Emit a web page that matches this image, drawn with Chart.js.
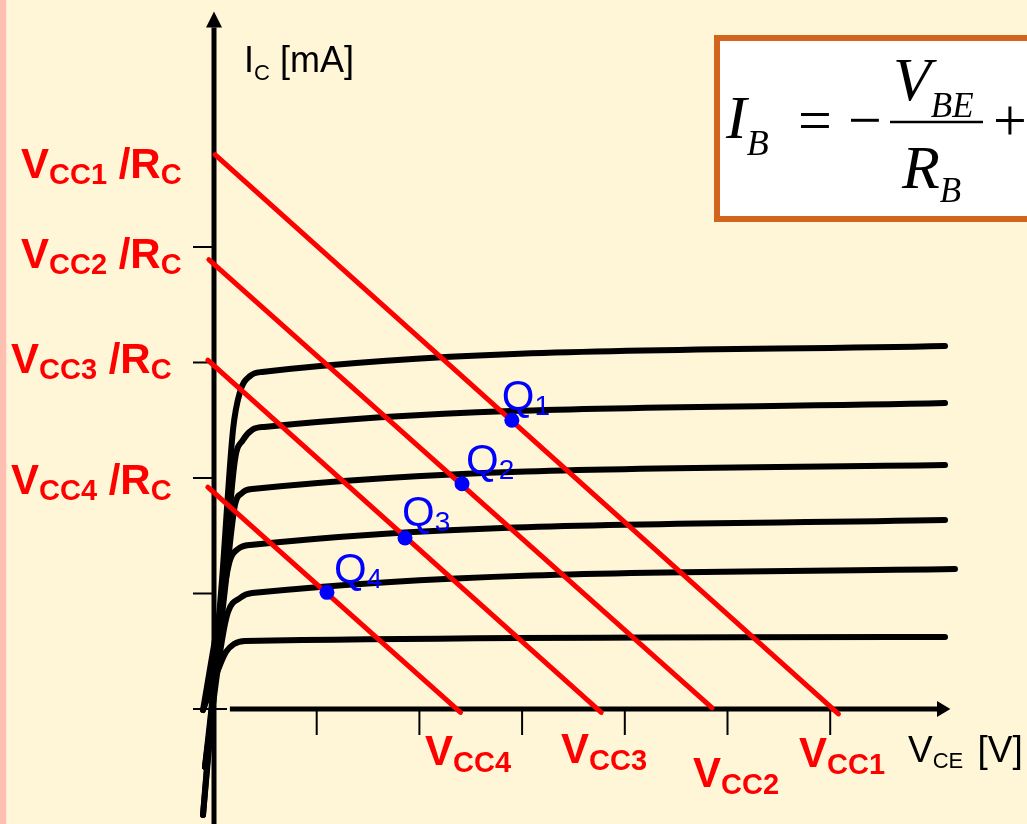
<!DOCTYPE html>
<html>
<head>
<meta charset="utf-8">
<title>Rectas de carga</title>
<script src="https://cdn.jsdelivr.net/npm/chart.js@4.4.1/dist/chart.umd.min.js"></script>
<style>
    html, body { margin: 0; padding: 0; background: #FFF5D7; overflow: hidden; }
    #contenedor { width: 1027px; height: 824px; }
</style>
</head>
<body>
<div id="contenedor"><canvas id="grafico"></canvas></div>
<script>
// Marcas de los ejes (V y mA)
const ticksVCE = [1, 2, 3, 4, 5, 6];
const ticksIC = [0, 1, 2, 3, 4];

// Curvas características IC-VCE (una por cada IB), [VCE, IC]
const curvaIB1 = [[-0.107, -0.918], [0.078, 1.117], [0.185, 2.416], [0.253, 2.745], [0.351, 2.883], [0.467, 2.918], [7.118, 3.143]];
const curvaIB2 = [[-0.107, -0.918], [0.097, 1.117], [0.204, 2.156], [0.282, 2.329], [0.370, 2.416], [0.487, 2.442], [7.118, 2.649]];
const curvaIB3 = [[-0.088, -0.502], [0.117, 1.117], [0.204, 1.766], [0.273, 1.870], [0.370, 1.905], [7.118, 2.113]];
const curvaIB4 = [[-0.107, -0.009], [0.078, 0.944], [0.156, 1.290], [0.234, 1.385], [0.351, 1.420], [7.118, 1.636]];
const curvaIB5 = [[-0.088, -0.502], [0.078, 0.597], [0.136, 0.840], [0.253, 0.961], [0.370, 1.004], [7.215, 1.212]];
const curvaIB6 = [[-0.107, -0.009], [0.058, 0.381], [0.117, 0.494], [0.195, 0.563], [0.302, 0.589], [7.118, 0.623]];

// Rectas de carga para cada VCC
const nombresVcc = ['CC1', 'CC2', 'CC3', 'CC4'];
const rectaInicioV = [0.01, -0.05, -0.06, -0.06];
const rectaInicioI = [4.80, 3.89, 3.02, 1.92];
const rectaFinV = [6.08, 4.85, 3.77, 2.40];
const rectaFinI = [-0.043, 0.01, -0.03, -0.03];

// Puntos de trabajo Q
const nombresQ = ['1', '2', '3', '4'];
const qVCE = [2.90, 2.415, 1.86, 1.10];
const qIC = [2.50, 1.95, 1.48, 1.01];

const curvas = [curvaIB1, curvaIB2, curvaIB3, curvaIB4, curvaIB5, curvaIB6];

const datasets = [];
datasets.push({
    label: 'Q',
    data: qVCE.map((v, i) => ({ x: v, y: qIC[i] })),
    showLine: false,
    pointRadius: 7.5,
    pointBackgroundColor: '#0000FF',
    pointBorderWidth: 0,
    order: 0
});
nombresVcc.forEach((n, i) => {
    datasets.push({
        label: 'V' + n,
        data: [{ x: rectaInicioV[i], y: rectaInicioI[i] }, { x: rectaFinV[i], y: rectaFinI[i] }],
        borderColor: '#FF0000',
        borderWidth: 5,
        borderCapStyle: 'round',
        pointRadius: 0,
        order: 1
    });
});
curvas.forEach((c, i) => {
    datasets.push({
        label: 'IB' + (i + 1),
        data: c.map(p => ({ x: p[0], y: p[1] })),
        borderColor: '#000000',
        borderWidth: 6,
        borderCapStyle: 'round',
        borderJoinStyle: 'round',
        cubicInterpolationMode: 'monotone',
        pointRadius: 0,
        order: 2
    });
});

// texto con subíndice, devuelve la x final
function textoSub(ctx, x, y, partes) {
    partes.forEach(p => {
        ctx.font = p.font;
        ctx.fillText(p.t, x, y + (p.dy || 0));
        x += ctx.measureText(p.t).width;
    });
    return x;
}

const rotulos = {
    id: 'rotulos',
    beforeDraw(chart) {
        const ctx = chart.ctx;
        ctx.save();
        ctx.fillStyle = '#FFF5D7';
        ctx.fillRect(0, 0, chart.width, chart.height);
        ctx.fillStyle = '#FFBFB0';
        ctx.fillRect(0, 0, 6, chart.height);
        ctx.fillStyle = '#FFE6D6';
        ctx.fillRect(6, 0, 1, chart.height);
        ctx.restore();
    },
    beforeDatasetsDraw(chart) {
        const ctx = chart.ctx;
        const sx = chart.scales.x, sy = chart.scales.y;
        const x0 = sx.getPixelForValue(0), y0 = sy.getPixelForValue(0);
        ctx.save();
        ctx.strokeStyle = '#000';
        ctx.fillStyle = '#000';
        // eje IC
        ctx.lineWidth = 5;
        ctx.beginPath();
        ctx.moveTo(x0, sy.getPixelForValue(sy.min));
        ctx.lineTo(x0, sy.getPixelForValue(5.9));
        ctx.stroke();
        ctx.beginPath();
        ctx.moveTo(x0, sy.getPixelForValue(6.04));
        ctx.lineTo(x0 - 8, sy.getPixelForValue(5.9));
        ctx.lineTo(x0 + 8, sy.getPixelForValue(5.9));
        ctx.closePath();
        ctx.fill();
        // eje VCE
        ctx.beginPath();
        ctx.moveTo(sx.getPixelForValue(0.155), y0);
        ctx.lineTo(sx.getPixelForValue(7.04), y0);
        ctx.stroke();
        ctx.beginPath();
        ctx.moveTo(sx.getPixelForValue(7.17), y0);
        ctx.lineTo(sx.getPixelForValue(7.04), y0 - 8);
        ctx.lineTo(sx.getPixelForValue(7.04), y0 + 8);
        ctx.closePath();
        ctx.fill();
        // marcas
        ctx.lineWidth = 2;
        ticksIC.forEach(t => {
            const y = sy.getPixelForValue(t);
            ctx.beginPath();
            ctx.moveTo(x0 - 21, y);
            ctx.lineTo(t === 0 ? x0 + 13 : x0, y);
            ctx.stroke();
        });
        ticksVCE.forEach(t => {
            const x = sx.getPixelForValue(t);
            ctx.beginPath();
            ctx.moveTo(x, y0 + 2);
            ctx.lineTo(x, y0 + 26);
            ctx.stroke();
        });
        ctx.restore();
    },
    afterDatasetsDraw(chart) {
        const ctx = chart.ctx;
        const sx = chart.scales.x, sy = chart.scales.y;
        ctx.save();
        ctx.textBaseline = 'alphabetic';

        // títulos de los ejes
        ctx.fillStyle = '#000';
        let x = textoSub(ctx, 244, 72, [
            { t: 'I', font: '36px "Liberation Sans"' },
            { t: 'C', font: '22px "Liberation Sans"', dy: 8 }
        ]);
        textoSub(ctx, x, 72, [{ t: ' [mA]', font: '36px "Liberation Sans"' }]);
        x = textoSub(ctx, 908, 762, [
            { t: 'V', font: '37px "Liberation Sans"' },
            { t: 'CE', font: '22px "Liberation Sans"', dy: 6 }
        ]);
        textoSub(ctx, x + 4, 762, [{ t: ' [V]', font: '37px "Liberation Sans"' }]);

        // rótulos VCC/RC y VCC
        ctx.fillStyle = '#FF0000';
        const izq = [21, 21, 11, 11];
        const base = [178, 268, 373, 494];
        nombresVcc.forEach((n, i) => {
            textoSub(ctx, izq[i], base[i], [
                { t: 'V', font: 'bold 42px "Liberation Sans"' },
                { t: n, font: 'bold 29px "Liberation Sans"', dy: 6 },
                { t: ' /R', font: 'bold 42px "Liberation Sans"' },
                { t: 'C', font: 'bold 29px "Liberation Sans"', dy: 6 }
            ]);
        });
        const abajoX = [799, 693, 561, 425];
        const abajoY = [767, 787, 763, 765];
        nombresVcc.forEach((n, i) => {
            textoSub(ctx, abajoX[i], abajoY[i], [
                { t: 'V', font: 'bold 42px "Liberation Sans"' },
                { t: n, font: 'bold 29px "Liberation Sans"', dy: 7 }
            ]);
        });

        // rótulos Q
        ctx.fillStyle = '#0000FF';
        const dq = [[-10, -10], [4, -10], [-3, -12], [7, -9]];
        nombresQ.forEach((n, i) => {
            const px = sx.getPixelForValue(qVCE[i]) + dq[i][0];
            const py = sy.getPixelForValue(qIC[i]) + dq[i][1];
            textoSub(ctx, px, py, [
                { t: 'Q', font: '42px "Liberation Sans"' },
                { t: n, font: '28px "Liberation Sans"', dy: 5 }
            ]);
        });

        // recuadro con la ecuación de IB
        ctx.fillStyle = '#FFFFFF';
        ctx.fillRect(717, 38, 400, 181);
        ctx.strokeStyle = '#D2641E';
        ctx.lineWidth = 6;
        ctx.strokeRect(717, 38, 400, 181);
        ctx.fillStyle = '#000';
        textoSub(ctx, 726, 138, [
            { t: 'I', font: 'italic 62px "Liberation Serif"' },
            { t: 'B', font: 'italic 36px "Liberation Serif"', dy: 17 }
        ]);
        ctx.font = '60px "Liberation Serif"';
        ctx.fillText('=', 798, 140);
        ctx.fillText('\u2212', 848, 140);
        ctx.fillText('+', 993, 140);
        ctx.lineWidth = 2.5;
        ctx.strokeStyle = '#000';
        ctx.beginPath();
        ctx.moveTo(890, 122);
        ctx.lineTo(983, 122);
        ctx.stroke();
        textoSub(ctx, 893, 100, [
            { t: 'V', font: 'italic 62px "Liberation Serif"' },
            { t: 'BE', font: 'italic 35px "Liberation Serif"', dy: 17 }
        ]);
        textoSub(ctx, 902, 188, [
            { t: 'R', font: 'italic 62px "Liberation Serif"' },
            { t: 'B', font: 'italic 35px "Liberation Serif"', dy: 14 }
        ]);
        ctx.restore();
    }
};

new Chart(document.getElementById('grafico'), {
    type: 'line',
    data: { datasets: datasets },
    options: {
        responsive: true,
        maintainAspectRatio: false,
        animation: false,
        layout: { padding: 0, autoPadding: false },
        plugins: { legend: { display: false }, tooltip: { enabled: false } },
        scales: {
            x: { type: 'linear', display: false, min: -2.0837, max: 7.9162 },
            y: { type: 'linear', display: false, min: -0.9957, max: 6.1385 }
        }
    },
    plugins: [rotulos]
});
</script>
</body>
</html>
